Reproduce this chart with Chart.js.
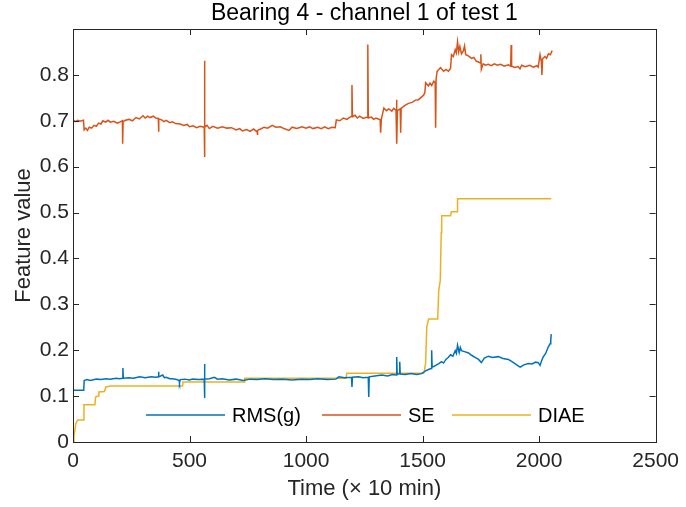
<!DOCTYPE html>
<html>
<head>
<meta charset="utf-8">
<script src="https://cdn.jsdelivr.net/npm/chart.js@4.4.0/dist/chart.umd.min.js"></script>
<style>
  html, body { margin: 0; padding: 0; background: #fff; }
  #wrap { width: 686px; height: 507px; }
</style>
</head>
<body>
<div id="wrap"><canvas id="chart" width="686" height="507"></canvas></div>
<script>
// values (time in units of 10 min)
const seTime = [0, 10, 20, 30, 45, 48, 55, 62, 70, 80, 90, 100, 110, 120, 128, 140, 150, 160, 175, 190, 200, 212, 213, 215, 225, 240, 255, 270, 285, 300, 310, 320, 330, 345, 355, 366, 367, 369, 380, 390, 400, 415, 427, 440, 460, 475, 490, 500, 515, 530, 545, 563, 564, 565, 566, 575, 585, 600, 620, 641, 660, 680, 700, 715, 727, 745, 760, 775, 790, 791, 793, 805, 820, 835, 855, 870, 890, 905, 927, 940, 960, 983, 1000, 1015, 1030, 1050, 1065, 1080, 1095, 1111, 1125, 1130, 1145, 1160, 1175, 1195, 1197, 1199, 1210, 1220, 1230, 1245, 1263, 1265, 1267, 1280, 1290, 1300, 1318, 1320, 1323, 1334, 1345, 1355, 1368, 1376, 1386, 1388, 1390, 1392, 1404, 1406, 1408, 1420, 1430, 1440, 1455, 1470, 1483, 1496, 1505, 1510, 1513, 1525, 1532, 1539, 1548, 1554, 1556, 1558, 1562, 1570, 1577, 1590, 1600, 1611, 1620, 1624, 1632, 1640, 1645, 1650, 1655, 1660, 1667, 1675, 1680, 1685, 1695, 1710, 1720, 1730, 1740, 1748, 1750, 1752, 1760, 1770, 1782, 1795, 1808, 1820, 1835, 1850, 1868, 1878, 1880, 1882, 1895, 1910, 1918, 1925, 1940, 1960, 1975, 1990, 1996, 2004, 2010, 2012, 2015, 2025, 2032, 2040, 2048, 2056];
const seValue = [0.702, 0.698, 0.701, 0.699, 0.701, 0.680, 0.684, 0.679, 0.686, 0.684, 0.690, 0.688, 0.695, 0.693, 0.700, 0.697, 0.701, 0.697, 0.699, 0.695, 0.697, 0.700, 0.650, 0.698, 0.701, 0.703, 0.700, 0.707, 0.704, 0.711, 0.706, 0.710, 0.707, 0.710, 0.706, 0.705, 0.676, 0.704, 0.702, 0.698, 0.701, 0.696, 0.698, 0.694, 0.693, 0.690, 0.692, 0.687, 0.689, 0.685, 0.688, 0.686, 0.831, 0.621, 0.686, 0.690, 0.683, 0.688, 0.684, 0.687, 0.684, 0.685, 0.680, 0.683, 0.678, 0.681, 0.677, 0.682, 0.676, 0.669, 0.679, 0.682, 0.686, 0.684, 0.690, 0.686, 0.687, 0.683, 0.679, 0.686, 0.683, 0.687, 0.684, 0.687, 0.683, 0.686, 0.683, 0.687, 0.683, 0.686, 0.685, 0.702, 0.700, 0.706, 0.703, 0.710, 0.778, 0.709, 0.712, 0.706, 0.710, 0.705, 0.708, 0.866, 0.706, 0.708, 0.703, 0.706, 0.702, 0.674, 0.703, 0.728, 0.722, 0.726, 0.721, 0.727, 0.723, 0.746, 0.650, 0.722, 0.726, 0.674, 0.727, 0.732, 0.735, 0.738, 0.740, 0.745, 0.746, 0.752, 0.756, 0.762, 0.783, 0.776, 0.782, 0.777, 0.786, 0.783, 0.685, 0.790, 0.807, 0.812, 0.816, 0.808, 0.812, 0.808, 0.814, 0.844, 0.840, 0.855, 0.848, 0.872, 0.850, 0.862, 0.846, 0.852, 0.863, 0.844, 0.842, 0.836, 0.838, 0.830, 0.828, 0.826, 0.845, 0.812, 0.824, 0.821, 0.823, 0.820, 0.824, 0.821, 0.823, 0.819, 0.822, 0.819, 0.865, 0.819, 0.816, 0.818, 0.813, 0.821, 0.818, 0.821, 0.817, 0.820, 0.817, 0.844, 0.828, 0.800, 0.835, 0.840, 0.836, 0.846, 0.844, 0.853];

const rmsTime = [0, 46, 48, 60, 75, 100, 120, 141, 160, 185, 200, 212, 214, 216, 240, 260, 286, 310, 335, 355, 366, 367, 369, 385, 392, 400, 415, 427, 445, 455, 457, 460, 480, 500, 513, 540, 563, 564, 565, 566, 585, 607, 620, 641, 670, 700, 730, 760, 790, 825, 860, 900, 940, 980, 1015, 1050, 1090, 1128, 1141, 1165, 1195, 1197, 1199, 1225, 1245, 1267, 1269, 1271, 1295, 1325, 1350, 1370, 1387, 1389, 1391, 1400, 1402, 1404, 1425, 1450, 1475, 1496, 1513, 1525, 1537, 1539, 1541, 1550, 1560, 1570, 1581, 1590, 1600, 1610, 1620, 1630, 1640, 1645, 1650, 1657, 1662, 1667, 1680, 1697, 1710, 1727, 1740, 1752, 1765, 1782, 1800, 1825, 1845, 1868, 1880, 1898, 1910, 1919, 1935, 1953, 1970, 1985, 1996, 2004, 2010, 2017, 2028, 2039, 2047, 2050, 2052];
const rmsValue = [0.113, 0.113, 0.134, 0.136, 0.134, 0.137, 0.136, 0.138, 0.137, 0.139, 0.138, 0.139, 0.161, 0.139, 0.140, 0.139, 0.142, 0.140, 0.142, 0.141, 0.142, 0.153, 0.142, 0.146, 0.140, 0.141, 0.138, 0.138, 0.136, 0.134, 0.129, 0.136, 0.137, 0.135, 0.137, 0.136, 0.137, 0.170, 0.096, 0.137, 0.138, 0.141, 0.137, 0.138, 0.135, 0.137, 0.134, 0.137, 0.136, 0.138, 0.136, 0.137, 0.135, 0.137, 0.136, 0.138, 0.136, 0.137, 0.142, 0.140, 0.141, 0.120, 0.141, 0.142, 0.140, 0.141, 0.098, 0.142, 0.144, 0.146, 0.144, 0.147, 0.146, 0.185, 0.147, 0.149, 0.175, 0.148, 0.147, 0.149, 0.147, 0.149, 0.155, 0.158, 0.160, 0.200, 0.163, 0.165, 0.168, 0.171, 0.175, 0.172, 0.180, 0.184, 0.190, 0.187, 0.199, 0.193, 0.211, 0.195, 0.206, 0.199, 0.197, 0.194, 0.189, 0.184, 0.180, 0.173, 0.183, 0.187, 0.184, 0.186, 0.182, 0.180, 0.176, 0.170, 0.166, 0.163, 0.168, 0.171, 0.170, 0.174, 0.173, 0.167, 0.176, 0.185, 0.193, 0.207, 0.214, 0.222, 0.235];

const diaeTime = [0, 4, 8, 12, 20, 44, 47, 94, 97, 108, 111, 135, 141, 160, 470, 472, 735, 737, 1171, 1175, 1504, 1507, 1513, 1518, 1526, 1565, 1569, 1576, 1580, 1582, 1620, 1624, 1648, 1650, 2052];
const diaeValue = [0, 0.013, 0.026, 0.040, 0.048, 0.048, 0.081, 0.081, 0.098, 0.100, 0.109, 0.110, 0.120, 0.122, 0.122, 0.131, 0.131, 0.139, 0.139, 0.150, 0.150, 0.153, 0.172, 0.251, 0.268, 0.268, 0.328, 0.353, 0.456, 0.493, 0.493, 0.502, 0.502, 0.530, 0.530];

const seriesNames = ["RMS(g)", "SE", "DIAE"];
const seriesColors = ["#0072BD", "#D95319", "#EDB120"];

const xTicks = [0, 500, 1000, 1500, 2000, 2500];
const yTicks = [0, 0.1, 0.2, 0.3, 0.4, 0.5, 0.6, 0.7, 0.8];

const FONT = "'Liberation Sans', Arial, Helvetica, sans-serif";
const INK = "#262626";

function toPoints(xs, ys) {
  return xs.map((x, i) => ({ x: x, y: ys[i] }));
}

// box around the axes with inward ticks, MATLAB style
const boxPlugin = {
  id: "box",
  afterDatasetsDraw(chart) {
    const { ctx, chartArea: a, scales } = chart;
    const len = 6;
    ctx.save();
    ctx.strokeStyle = INK;
    ctx.lineWidth = 1;
    ctx.beginPath();
    xTicks.forEach(v => {
      const px = Math.round(scales.x.getPixelForValue(v)) + 0.5;
      ctx.moveTo(px, a.bottom); ctx.lineTo(px, a.bottom - len);
      ctx.moveTo(px, a.top); ctx.lineTo(px, a.top + len);
    });
    yTicks.forEach(v => {
      const py = Math.round(scales.y.getPixelForValue(v)) + 0.5;
      ctx.moveTo(a.left, py); ctx.lineTo(a.left + len, py);
      ctx.moveTo(a.right, py); ctx.lineTo(a.right - len, py);
    });
    ctx.stroke();
    ctx.strokeRect(Math.round(a.left) + 0.5, Math.round(a.top) + 0.5,
      Math.round(a.right - a.left), Math.round(a.bottom - a.top));
    ctx.restore();
  }
};

// horizontal legend inside the axes, no frame
const legendPlugin = {
  id: "insideLegend",
  afterDatasetsDraw(chart) {
    const { ctx, chartArea: a } = chart;
    const y = a.bottom - 27;
    const starts = [a.left + 73, a.left + 249, a.left + 379];
    ctx.save();
    ctx.font = "20px " + FONT;
    ctx.textBaseline = "middle";
    ctx.fillStyle = "#000";
    seriesNames.forEach((name, i) => {
      const x0 = starts[i];
      ctx.strokeStyle = seriesColors[i];
      ctx.lineWidth = 1.5;
      ctx.beginPath();
      ctx.moveTo(x0, y);
      ctx.lineTo(x0 + 79, y);
      ctx.stroke();
      ctx.fillText(name, x0 + 86, y + 1);
    });
    ctx.restore();
  }
};

const data = {
  datasets: [
    { label: seriesNames[0], data: toPoints(rmsTime, rmsValue), borderColor: seriesColors[0] },
    { label: seriesNames[1], data: toPoints(seTime, seValue), borderColor: seriesColors[1] },
    { label: seriesNames[2], data: toPoints(diaeTime, diaeValue), borderColor: seriesColors[2] }
  ].map(d => Object.assign(d, { borderWidth: 1.5, pointRadius: 0, tension: 0, fill: false }))
};

new Chart(document.getElementById("chart"), {
  type: "line",
  data: data,
  options: {
    responsive: false,
    animation: false,
    layout: { padding: { top: 0, right: 27, left: 0, bottom: 0 } },
    plugins: {
      legend: { display: false },
      tooltip: { enabled: false },
      title: {
        display: true,
        text: "Bearing 4 - channel 1 of test 1",
        color: "#000",
        fullSize: false,
        font: { family: FONT, size: 23, weight: "normal" },
        padding: { top: 0, bottom: 1.4 }
      }
    },
    scales: {
      x: {
        type: "linear",
        min: 0,
        max: 2500,
        grid: { display: false, drawTicks: false },
        border: { display: false },
        afterBuildTicks: s => { s.ticks = xTicks.map(v => ({ value: v })); },
        afterFit: s => { s.height = 65; },
        ticks: {
          color: INK,
          padding: 7,
          maxRotation: 0,
          font: { family: FONT, size: 21 },
          callback: v => String(v)
        },
        title: {
          display: true,
          text: "Time (× 10 min)",
          color: INK,
          font: { family: FONT, size: 22 },
          padding: { top: 0, bottom: 4.8 }
        }
      },
      y: {
        type: "linear",
        min: 0,
        max: 0.9,
        grid: { display: false, drawTicks: false },
        border: { display: false },
        afterBuildTicks: s => { s.ticks = yTicks.map(v => ({ value: v })); },
        afterFit: s => { s.width = 73; },
        ticks: {
          color: INK,
          padding: 4,
          font: { family: FONT, size: 21 },
          callback: v => String(+v.toFixed(1))
        },
        title: {
          display: true,
          text: "Feature value",
          color: INK,
          font: { family: FONT, size: 22 },
          padding: { top: 11, bottom: 4 }
        }
      }
    }
  },
  plugins: [boxPlugin, legendPlugin]
});
</script>
</body>
</html>
